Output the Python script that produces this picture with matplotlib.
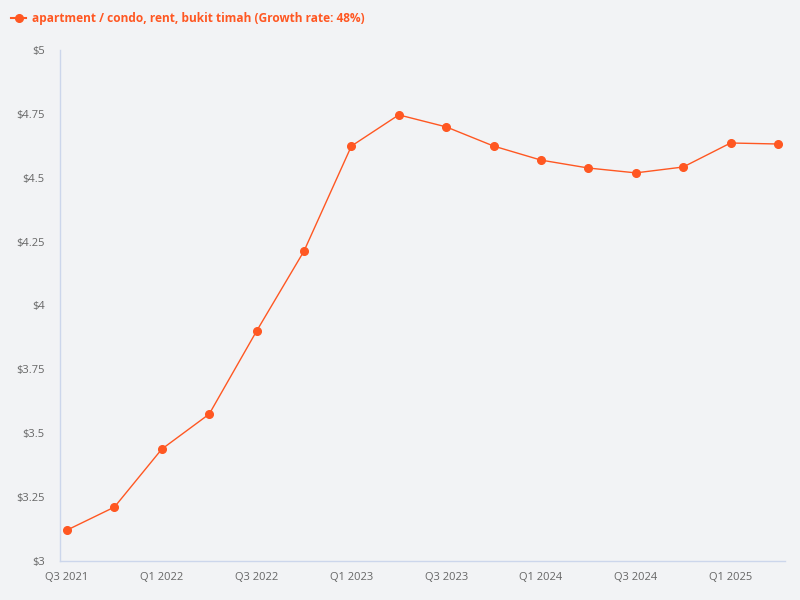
import matplotlib.pyplot as plt
from matplotlib.lines import Line2D

quarters = ["Q3 2021", "Q4 2021", "Q1 2022", "Q2 2022", "Q3 2022", "Q4 2022",
            "Q1 2023", "Q2 2023", "Q3 2023", "Q4 2023", "Q1 2024", "Q2 2024",
            "Q3 2024", "Q4 2024", "Q1 2025", "Q2 2025"]
rent = [3.121, 3.211, 3.438, 3.575, 3.900, 4.213, 4.624, 4.746,
        4.699, 4.624, 4.569, 4.538, 4.519, 4.542, 4.636, 4.632]
yticks = [3, 3.25, 3.5, 3.75, 4, 4.25, 4.5, 4.75, 5]
ytick_labels = ["$3", "$3.25", "$3.5", "$3.75", "$4", "$4.25", "$4.5", "$4.75", "$5"]
series_name = "apartment / condo, rent, bukit timah (Growth rate: 48%)"

color = "#ff5722"
bg = "#f2f3f5"
plt.rcParams['font.family'] = ['Open Sans', 'DejaVu Sans']

fig = plt.figure(figsize=(8, 6), dpi=100, facecolor=bg)
ax = fig.add_axes([0.075, 0.065, 0.90625, 0.8517])
ax.set_facecolor(bg)

x = list(range(len(quarters)))
ax.plot(x, rent, color=color, linewidth=1, marker='o', markersize=5.5)

ax.set_xlim(-0.148, len(quarters) - 1 + 0.148)
ax.set_ylim(3, 5)
ax.set_xticks(x[::2])
ax.set_xticklabels(quarters[::2])
ax.set_yticks(yticks)
ax.set_yticklabels(ytick_labels)
ax.tick_params(length=0, labelsize=8, colors="#666666", pad=8)
ax.tick_params(axis='y', pad=11)

for s in ['top', 'right']:
    ax.spines[s].set_visible(False)
for s in ['left', 'bottom']:
    ax.spines[s].set_color("#ccd6eb")
    ax.spines[s].set_linewidth(1)

handle = Line2D([], [], color=color, linewidth=1.5, marker='o', markersize=5.5)
fig.legend([handle], [series_name], loc='upper left', bbox_to_anchor=(0.0, 0.998),
           frameon=False, handlelength=1.3, handletextpad=0.45,
           prop={'weight': 'bold', 'size': 8.6}, labelcolor=color)

fig.savefig("out.png", dpi=100, facecolor=bg)
